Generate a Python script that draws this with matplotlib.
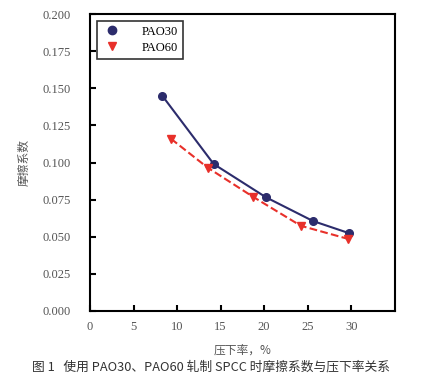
import matplotlib.pyplot as plt

# 数据
pao30_x = [8.3, 14.2, 20.2, 25.6, 29.7]
pao30_y = [0.145, 0.099, 0.0766, 0.0606, 0.0525]
pao60_x = [9.3, 13.5, 18.7, 24.2, 29.6]
pao60_y = [0.116, 0.0966, 0.077, 0.0574, 0.0486]

x_ticks = [0, 5, 10, 15, 20, 25, 30]
y_ticks = [0.000, 0.025, 0.050, 0.075, 0.100, 0.125, 0.150, 0.175, 0.200]

SERIF = ['Liberation Serif', 'DejaVu Serif']
CJK = ['Noto Sans CJK SC', 'DejaVu Sans']

NAVY = '#2c2c6c'
RED = '#e8302a'

fig = plt.figure(figsize=(4.21, 3.82), dpi=100)
ax = fig.add_axes([0.2138, 0.186, 0.724, 0.777])

ax.plot(pao30_x, pao30_y, '-', color=NAVY, lw=1.5, marker='o', ms=5.5)
ax.plot(pao60_x, pao60_y, '--', color=RED, lw=1.5, marker='v', ms=6)

# 图例只显示标记
ax.plot([], [], 'o', color=NAVY, ms=6, label='PAO30')
ax.plot([], [], 'v', color=RED, ms=6, label='PAO60')
handles, labels = ax.get_legend_handles_labels()
leg = ax.legend(handles[-2:], labels[-2:], loc='upper left',
                bbox_to_anchor=(0.01, 0.99), frameon=True, fancybox=False,
                edgecolor='black', prop={'family': SERIF, 'size': 9},
                handlelength=1.6, handletextpad=1.6, borderpad=0.4,
                labelspacing=0.3, borderaxespad=0.3)
leg.get_frame().set_linewidth(1.2)

ax.set_xlim(0, 35)
ax.set_ylim(0, 0.2)
ax.set_xticks(x_ticks)
ax.set_yticks(y_ticks)
ax.set_yticklabels([f'{v:.3f}' for v in y_ticks])
ax.tick_params(direction='in', length=4, width=1.5, labelsize=9,
               colors='black', labelcolor='#555555')
ax.tick_params(axis='y', pad=14)
ax.tick_params(axis='x', pad=7)
for lab in ax.get_xticklabels() + ax.get_yticklabels():
    lab.set_family(SERIF)
for s in ax.spines.values():
    s.set_linewidth(1.5)

ax.set_xlabel('压下率，%', family=CJK, fontsize=8.5, color='#555555', labelpad=8)
ax.set_ylabel('摩擦系数', family=CJK, fontsize=8.5, color='#555555', labelpad=8)

fig.text(0.5, 0.04, '图 1   使用 PAO30、PAO60 轧制 SPCC 时摩擦系数与压下率关系',
         ha='center', va='center', family=CJK, fontsize=9.2, color='#333333')

fig.savefig('out.png', dpi=100)
